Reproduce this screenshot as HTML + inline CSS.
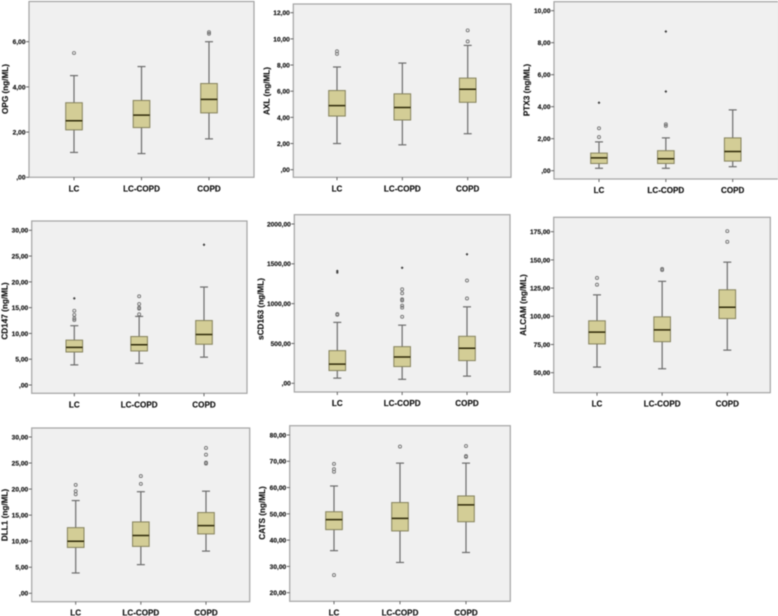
<!DOCTYPE html>
<html lang="en">
<head>
<meta charset="utf-8">
<title>Boxplots of biomarkers by group</title>
<style>
html,body{margin:0;padding:0;background:#fff;width:778px;height:616px;overflow:hidden}
svg{display:block;filter:blur(0.4px)}
text{font-family:"Liberation Sans",sans-serif;font-weight:bold;fill:#111;stroke:#111;stroke-width:0.15px}
</style>
</head>
<body>
<svg id="chart" xmlns="http://www.w3.org/2000/svg" width="778" height="616" viewBox="0 0 778 616"></svg>
<script>
const categories = ['LC', 'LC-COPD', 'COPD'];

// Each stats row: whisker low, Q1, median, Q3, whisker high
const opgStats = [[1.1, 2.1, 2.5, 3.3, 4.5], [1.05, 2.2, 2.75, 3.4, 4.9], [1.7, 2.85, 3.45, 4.15, 6.0]];
const opgOutliers = [[5.5], [], [6.35, 6.42]];
const opgExtremes = [[], [], []];
const opgTicks = [0, 2, 4, 6];

const axlStats = [[2.0, 4.1, 4.9, 6.05, 7.85], [1.9, 3.8, 4.75, 5.8, 8.15], [2.75, 5.15, 6.15, 7.0, 9.5]];
const axlOutliers = [[8.85, 9.05], [], [9.8, 10.65]];
const axlExtremes = [[], [], []];
const axlTicks = [0, 2, 4, 6, 8, 10, 12];

const ptx3Stats = [[0.15, 0.45, 0.8, 1.1, 1.8], [0.15, 0.45, 0.75, 1.25, 2.05], [0.25, 0.6, 1.2, 2.05, 3.8]];
const ptx3Outliers = [[2.1, 2.65], [2.8, 2.9], []];
const ptx3Extremes = [[4.25], [4.95, 8.7], []];
const ptx3Ticks = [0, 2, 4, 6, 8, 10];

const cd147Stats = [[3.9, 6.4, 7.3, 8.7, 11.5], [4.2, 6.6, 7.8, 9.4, 13.3], [5.4, 7.9, 9.8, 12.5, 19.0]];
const cd147Outliers = [[12.6, 12.9, 13.6, 14.4], [13.7, 14.8, 15.0, 15.7, 17.2], []];
const cd147Extremes = [[16.8], [], [27.2]];
const cd147Ticks = [0, 5, 10, 15, 20, 25, 30];

const scd163Stats = [[65, 160, 240, 410, 765], [50, 210, 330, 460, 730], [90, 285, 440, 590, 960]];
const scd163Outliers = [[860, 870], [835, 950, 975, 1040, 1055, 1130, 1180], [1065, 1290]];
const scd163Extremes = [[1390, 1410], [1450], [1620]];
const scd163Ticks = [0, 500, 1000, 1500, 2000];

const alcamStats = [[55, 75.5, 86, 96, 119], [53.5, 77.5, 88, 99.5, 131], [70, 98, 108, 123.5, 148]];
const alcamOutliers = [[128, 134], [141, 142], [166, 175.5]];
const alcamExtremes = [[], [], []];
const alcamTicks = [50, 75, 100, 125, 150, 175];

const dll1Stats = [[3.9, 8.8, 10, 12.6, 17.8], [5.5, 9, 11.1, 13.7, 19.5], [8.1, 11.4, 13, 15.5, 19.6]];
const dll1Outliers = [[19, 19.6, 20.8], [21, 22.5], [24.9, 25.1, 26.6, 27.9]];
const dll1Extremes = [[], [], []];
const dll1Ticks = [0, 5, 10, 15, 20, 25, 30];

const catsStats = [[36, 44, 47.8, 50.8, 60.6], [31.5, 43.5, 48.3, 54.3, 69.3], [35.3, 47, 53.4, 56.8, 69.3]];
const catsOutliers = [[26.7, 66, 67, 69], [75.6], [71.7, 72, 75.8]];
const catsExtremes = [[], [], []];
const catsTicks = [20, 30, 40, 50, 60, 70, 80];

const NS = 'http://www.w3.org/2000/svg';
const svg = document.getElementById('chart');

function make(parent, tag, attrs, text) {
  const el = document.createElementNS(NS, tag);
  for (const k in attrs) el.setAttribute(k, attrs[k]);
  if (text !== undefined) el.textContent = text;
  parent.appendChild(el);
  return el;
}

function fmt(v) {
  const s = v.toFixed(2).replace('.', ',');
  return v === 0 ? ',00' : s;
}

function drawPanel(p) {
  const g = make(svg, 'g', {});
  
  

  const yScale = v => p.y0 + (v - p.v0) * (p.y1 - p.y0) / (p.v1 - p.v0);
  const xScale = i => p.cats[0] + i * (p.cats[2] - p.cats[0]) / 2;

  const frame = make(g, 'rect', {x: p.l, y: p.t, width: p.r - p.l, height: p.b - p.t, fill: '#f0f0f0', stroke: '#a3a3a3', 'stroke-width': 1.2});
  
  

  p.ticks.forEach(v => {
    const y = yScale(v);
    const tick = make(g, 'line', {x1: p.l - 3, x2: p.l, y1: y, y2: y, stroke: '#555', 'stroke-width': 0.9});
    
    
    const lab = make(g, 'text', {x: p.l - 3.5, y: y + 2.4, 'text-anchor': 'end', 'font-size': 6.6}, fmt(v));
    
    
  });

  const title = make(g, 'text', {
    x: p.tx, y: p.ty, 'text-anchor': 'middle', 'font-size': 8.2,
    transform: 'rotate(-90 ' + p.tx + ' ' + p.ty + ')', 'dominant-baseline': 'central'
  }, p.title);
  
  

  categories.forEach((c, i) => {
    const x = xScale(i);
    const tick = make(g, 'line', {x1: x, x2: x, y1: p.b, y2: p.b + 3, stroke: '#555', 'stroke-width': 0.9});
    
    
    const lab = make(g, 'text', {x: x, y: p.b + 14, 'text-anchor': 'middle', 'font-size': 8.1}, c);
    
    

    const s = p.stats[i];
    const box = make(g, 'g', {});
    
    
    const w = 8.3;
    const cap = 4;
    const wc = '#6c6c6c';
    make(box, 'line', {x1: x, x2: x, y1: yScale(s[0]), y2: yScale(s[4]), stroke: wc, 'stroke-width': 1.2});
    make(box, 'line', {x1: x - cap, x2: x + cap, y1: yScale(s[0]), y2: yScale(s[0]), stroke: wc, 'stroke-width': 1.2});
    make(box, 'line', {x1: x - cap, x2: x + cap, y1: yScale(s[4]), y2: yScale(s[4]), stroke: wc, 'stroke-width': 1.2});
    make(box, 'rect', {x: x - w, y: yScale(s[3]), width: 2 * w, height: yScale(s[1]) - yScale(s[3]), fill: '#d3cd96', stroke: '#85825c', 'stroke-width': 1});
    make(box, 'line', {x1: x - w, x2: x + w, y1: yScale(s[2]), y2: yScale(s[2]), stroke: '#2e2908', 'stroke-width': 1.5});

    p.outliers[i].forEach(v => {
      const o = make(g, 'circle', {cx: x, cy: yScale(v), r: 1.5, fill: 'none', stroke: '#6e6e6e', 'stroke-width': 0.85});
      
      
    });
    p.extremes[i].forEach(v => {
      const e = make(g, 'path', {
        d: 'M' + (x - 1.2) + ' ' + yScale(v) + 'h2.4M' + x + ' ' + (yScale(v) - 1.2) + 'v2.4',
        stroke: '#333', 'stroke-width': 1
      });
      
      
    });
  });
}

drawPanel({id: 'opg', title: 'OPG (ng/ML)', stats: opgStats, outliers: opgOutliers, extremes: opgExtremes, ticks: opgTicks,
  l: 29, r: 254, t: 1.5, b: 177.3, v0: 0, y0: 177.3, v1: 6, y1: 41.7, cats: [74, 141.5, 209], tx: 5.5, ty: 89});
drawPanel({id: 'axl', title: 'AXL (ng/ML)', stats: axlStats, outliers: axlOutliers, extremes: axlExtremes, ticks: axlTicks,
  l: 293.3, r: 511, t: 4, b: 177.3, v0: 0, y0: 169.7, v1: 12, y1: 12.7, cats: [337, 402.3, 467.7], tx: 267, ty: 91});
drawPanel({id: 'ptx3', title: 'PTX3 (ng/ML)', stats: ptx3Stats, outliers: ptx3Outliers, extremes: ptx3Extremes, ticks: ptx3Ticks,
  l: 554, r: 778.5, t: 1.7, b: 179, v0: 0, y0: 170.7, v1: 10, y1: 10.7, cats: [599, 666, 732.7], tx: 527, ty: 90});
drawPanel({id: 'cd147', title: 'CD147 (ng/ML)', stats: cd147Stats, outliers: cd147Outliers, extremes: cd147Extremes, ticks: cd147Ticks,
  l: 31.7, r: 247, t: 221, b: 393.3, v0: 0, y0: 385, v1: 30, y1: 230.3, cats: [74.3, 139.3, 204], tx: 5, ty: 311});
drawPanel({id: 'scd163', title: 'sCD163 (ng/ML)', stats: scd163Stats, outliers: scd163Outliers, extremes: scd163Extremes, ticks: scd163Ticks,
  l: 294.3, r: 510, t: 214.7, b: 392, v0: 0, y0: 383.3, v1: 2000, y1: 224, cats: [337.3, 402.3, 467], tx: 261, ty: 309});
drawPanel({id: 'alcam', title: 'ALCAM (ng/ML)', stats: alcamStats, outliers: alcamOutliers, extremes: alcamExtremes, ticks: alcamTicks,
  l: 553.7, r: 770.3, t: 217.3, b: 392.7, v0: 50, y0: 372.7, v1: 175, y1: 231.7, cats: [597, 662, 727.3], tx: 523.5, ty: 305});
drawPanel({id: 'dll1', title: 'DLL1 (ng/ML)', stats: dll1Stats, outliers: dll1Outliers, extremes: dll1Extremes, ticks: dll1Ticks,
  l: 31.7, r: 249.7, t: 428, b: 601.7, v0: 0, y0: 593.3, v1: 30, y1: 437, cats: [75.7, 141, 206], tx: 5, ty: 515});
drawPanel({id: 'cats', title: 'CATS (ng/ML)', stats: catsStats, outliers: catsOutliers, extremes: catsExtremes, ticks: catsTicks,
  l: 289.7, r: 510.3, t: 425.7, b: 601.3, v0: 20, y0: 592.7, v1: 80, y1: 435, cats: [334, 400, 466], tx: 262.5, ty: 513});
</script>
</body>
</html>
